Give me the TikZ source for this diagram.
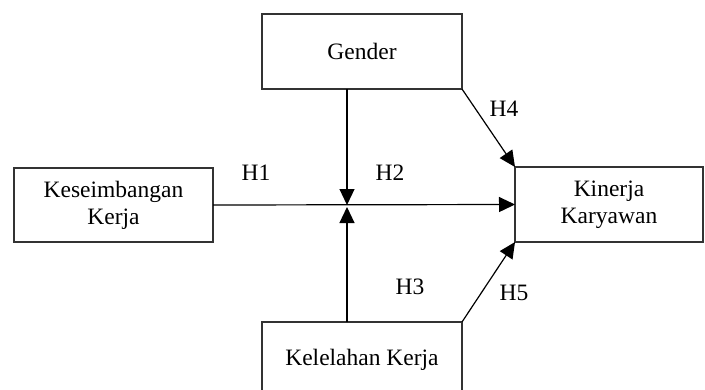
\documentclass[tikz,border=0pt]{standalone}
\usepackage{fontspec}
\setmainfont{Liberation Serif}
\usetikzlibrary{arrows.meta,calc}
\begin{document}
\begin{tikzpicture}[x=1pt,y=-1pt,
  box/.style={draw=black!80,line width=1.3pt,minimum width=#1,minimum height=75pt,inner sep=0pt,outer sep=0pt,align=center,font=\fontsize{23.5}{27}\selectfont},
  conn/.style={line width=1.2pt,-{Triangle[length=16pt,width=15pt]}},
  lbl/.style={font=\fontsize{23.5}{27}\selectfont,inner sep=0pt}]
\useasboundingbox (0,0) rectangle (705,389);
\clip (0,0) rectangle (705,389);
\node[box=200pt] (gender) at (362,51.5) {Gender};
\node[box=199pt,minimum height=74pt] (kes) at (113.5,205) {Keseimbangan\\Kerja};
\node[box=188pt] (kin) at (609,204.5) {Kinerja\\Karyawan};
\node[box=200pt] (kel) at (362,359.5) {Kelelahan Kerja};
\coordinate (m) at (347,206);
\draw[conn] (kes.east) -- (kin.west);
\draw[conn] (m |- gender.south) -- ($(m)+(0,-1)$);
\draw[conn] (m |- kel.north) -- ($(m)+(0,1)$);
\draw[conn] (gender.south east) -- (kin.north west);
\draw[conn] (kel.north east) -- (kin.south west);
\node[lbl] (h1) at (256,173) {H1};
\node[lbl] (h2) at (390,173) {H2};
\node[lbl] (h3) at (410,287) {H3};
\node[lbl] (h4) at (504,109) {H4};
\node[lbl] (h5) at (514,293) {H5};
\end{tikzpicture}
\end{document}
